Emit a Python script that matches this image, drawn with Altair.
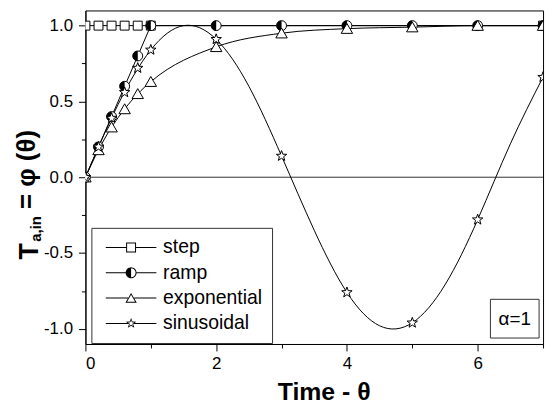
import math
import altair as alt
import pandas as pd

# ---------------- data ----------------
series_names = ["step", "ramp", "exponential", "sinusoidal"]

step_x = [0, 0.2, 0.4, 0.6, 0.8, 1.0, 7.0]
step_y = [1.0, 1.0, 1.0, 1.0, 1.0, 1.0, 1.0]

t_x = [0, 0.2, 0.4, 0.6, 0.8, 1.0, 2, 3, 4, 5, 6, 7]
ramp_y = [0, 0.2, 0.4, 0.6, 0.8, 1.0, 1.0, 1.0, 1.0, 1.0, 1.0, 1.0]
exp_y = [0, 0.18, 0.33, 0.45, 0.55, 0.63, 0.86, 0.95, 0.98, 0.99, 1.0, 1.0]
sin_y = [0, 0.2, 0.39, 0.56, 0.72, 0.84, 0.91, 0.14, -0.76, -0.96, -0.28, 0.66]

sin_curve_x = [0, 0.5, 1.0, 1.5, 2.0, 2.5, 3.0, 3.5, 4.0, 4.5, 5.0, 5.5, 6.0, 6.5, 7.0]
sin_curve_y = [0, 0.48, 0.84, 1.0, 0.91, 0.6, 0.14, -0.35, -0.76, -0.98, -0.96, -0.71, -0.28, 0.22, 0.66]

x_ticks = [0, 1, 2, 3, 4, 5, 6, 7]
y_ticks = [-1.0, -0.75, -0.5, -0.25, 0.0, 0.25, 0.5, 0.75, 1.0]

alpha_label = ["α=1"]
x_title = "Time - θ"

FONT = "Liberation Sans"

# ---------------- marker shapes (unit paths) ----------------
def fmt(p):
    return f"{p[0]:.3f},{p[1]:.3f}"

def poly(pts):
    return "M" + "L".join(fmt(p) for p in pts) + "Z"

def arc_pts(r, a0, a1, n):
    out = []
    for i in range(n + 1):
        a = math.radians(a0 + (a1 - a0) * i / n)
        out.append((r * math.sin(a), -r * math.cos(a)))
    return out

def scale_about(pts, c, k):
    return [(c[0] + (x - c[0]) * k, c[1] + (y - c[1]) * k) for x, y in pts]

sq_out = [(-0.9, -0.9), (0.9, -0.9), (0.9, 0.9), (-0.9, 0.9)]
tri_out = [(0, -1.05), (1.15, 0.95), (-1.15, 0.95)]
tri_c = (0, (-1.05 + 0.95 + 0.95) / 3)
star_out = []
for i in range(10):
    r = 1.1 if i % 2 == 0 else 0.45
    a = math.radians(36 * i)
    star_out.append((r * math.sin(a), -r * math.cos(a)))

SQUARE = poly(sq_out)
TRIANGLE = poly(tri_out)
STAR = poly(star_out)
HALF_LEFT = poly(arc_pts(1.0, 180, 360, 16))

# legend symbols: filled-only geometry (rings + 1px connector lines)
def line_parts(a):
    L = 5.1
    h = 0.1
    return (poly([(-L, -h), (-a, -h), (-a, h), (-L, h)]) +
            poly([(a, -h), (L, -h), (L, h), (a, h)]))

def ring(outer, inner):
    return poly(outer) + poly(list(reversed(inner)))

leg_step = ring([(-1.0, -1.0), (1.0, -1.0), (1.0, 1.0), (-1.0, 1.0)],
                [(-0.8, -0.8), (0.8, -0.8), (0.8, 0.8), (-0.8, 0.8)]) + line_parts(1.0)
leg_ramp = (poly(arc_pts(1.1, 180, 360, 18)) +
            poly(arc_pts(1.1, 0, 180, 18) + arc_pts(0.9, 180, 0, 18)) +
            line_parts(1.1))
leg_exp = ring(tri_out, scale_about(tri_out, tri_c, 0.7)) + line_parts(0.62)
leg_sin = ring(star_out, scale_about(star_out, (0, 0), 0.6)) + line_parts(0.6)

# ---------------- frames ----------------
step_df = pd.DataFrame({"x": step_x, "y": step_y})
ramp_df = pd.DataFrame({"x": t_x, "y": ramp_y})
exp_df = pd.DataFrame({"x": t_x, "y": exp_y})
sin_df = pd.DataFrame({"x": t_x, "y": sin_y})
sin_curve_df = pd.DataFrame({"x": sin_curve_x, "y": sin_curve_y})
legend_df = pd.DataFrame({"series": series_names, "x": [0, 0, 0, 0], "y": [0, 0, 0, 0]})

x_enc = alt.X(
    "x:Q",
    scale=alt.Scale(domain=[0, 7], nice=False, zero=False),
    axis=alt.Axis(
        values=x_ticks,
        format="d",
        labelExpr="datum.value % 2 === 0 ? datum.label : ''",
        tickSize={"condition": {"test": "datum.value % 2 === 0", "value": 7}, "value": 4},
        title=x_title,
        titleFont=FONT,
        titleFontSize=25,
        titleFontWeight="bold",
        titleX=240,
        titleY=56,
        titleBaseline="alphabetic",
        titleAnchor="middle",
        titleAlign="center",
        labelPadding=5,
    ),
)
y_enc = alt.Y(
    "y:Q",
    scale=alt.Scale(domain=[-1.1, 1.1], nice=False, zero=False),
    axis=alt.Axis(
        values=y_ticks,
        labelExpr="abs(datum.value * 2 - round(datum.value * 2)) < 1e-6 ? replace(format(datum.value, '.1f'), '\u2212', '-') : ''",
        tickSize={"condition": {"test": "abs(datum.value * 2 - round(datum.value * 2)) < 1e-6", "value": 7}, "value": 4},
        title=None,
        labelPadding=6,
    ),
)

LW = 1
base_line = dict(color="black", strokeWidth=LW, clip=True)
pt = dict(size=100, fill="white", stroke="black", strokeWidth=1, opacity=1, clip=True, filled=False)

zero_rule = alt.Chart(pd.DataFrame({"y": [0.0]})).mark_rule(color="#333333", strokeWidth=1).encode(y=y_enc)

l_step = alt.Chart(step_df).mark_line(**base_line).encode(x=x_enc, y=y_enc)
l_ramp = alt.Chart(ramp_df).mark_line(**base_line).encode(x=x_enc, y=y_enc)
l_exp = alt.Chart(exp_df).mark_line(interpolate="monotone", **base_line).encode(x=x_enc, y=y_enc)
l_sin = alt.Chart(sin_curve_df).mark_line(interpolate="natural", **base_line).encode(x=x_enc, y=y_enc)

p_step = alt.Chart(step_df).mark_point(shape=SQUARE, **pt).encode(x=x_enc, y=y_enc)
p_ramp = alt.Chart(ramp_df).mark_point(shape="circle", **pt).encode(x=x_enc, y=y_enc)
p_ramp_half = alt.Chart(ramp_df).mark_point(
    shape=HALF_LEFT, size=100, fill="black", filled=True, strokeWidth=0, opacity=1, clip=True
).encode(x=x_enc, y=y_enc)
p_exp = alt.Chart(exp_df).mark_point(shape=TRIANGLE, **pt).encode(x=x_enc, y=y_enc)
p_sin = alt.Chart(sin_df).mark_point(shape=STAR, **pt).encode(x=x_enc, y=y_enc)

legend_layer = alt.Chart(legend_df).mark_point(
    filled=True, color="black", opacity=0, size=100, strokeWidth=0
).encode(
    x=x_enc,
    y=y_enc,
    shape=alt.Shape(
        "series:N",
        scale=alt.Scale(domain=series_names, range=[leg_step, leg_ramp, leg_exp, leg_sin]),
        sort=series_names,
        legend=alt.Legend(
            title=None,
            orient="none",
            legendX=6,
            legendY=219,
            padding=10,
            strokeColor="#333333",
            fillColor="white",
            labelFont=FONT,
            labelFontSize=19.5,
            labelColor="black",
            labelLimit=300,
            symbolSize=100,
            symbolOffset=20.25,
            labelOffset=22.5,
            rowPadding=4.5,
            symbolStrokeWidth=0,
            symbolOpacity=1,
            symbolFillColor="black",
        ),
    ),
)

alpha_box = alt.Chart(pd.DataFrame({"t": alpha_label})).mark_rect(
    fill="white", stroke="#333333", strokeWidth=1
).encode(x=alt.value(408), x2=alt.value(457), y=alt.value(291), y2=alt.value(330))
alpha_text = alt.Chart(pd.DataFrame({"t": alpha_label})).mark_text(
    font=FONT, fontSize=19, color="black", align="center", baseline="middle"
).encode(x=alt.value(432.5), y=alt.value(311), text="t:N")

yt1 = alt.Chart(pd.DataFrame({"t": ["T"]})).mark_text(
    font=FONT, fontSize=27, fontWeight="bold", angle=270, align="left", baseline="alphabetic", color="black"
).encode(x=alt.value(-48), y=alt.value(251), text="t:N")
yt2 = alt.Chart(pd.DataFrame({"t": ["a,in"]})).mark_text(
    font=FONT, fontSize=15, fontWeight="bold", angle=270, align="left", baseline="alphabetic", color="black"
).encode(x=alt.value(-45), y=alt.value(233), text="t:N")
yt3 = alt.Chart(pd.DataFrame({"t": ["= φ (θ)"]})).mark_text(
    font=FONT, fontSize=26, fontWeight="bold", angle=270, align="left", baseline="alphabetic", color="black"
).encode(x=alt.value(-51), y=alt.value(200), text="t:N")

chart = alt.layer(
    zero_rule, l_step, l_ramp, l_exp, l_sin,
    p_step, p_ramp, p_ramp_half, p_exp, p_sin,
    legend_layer, alpha_box, alpha_text, yt1, yt2, yt3,
).properties(
    width=461,
    height=336,
    background="white",
    autosize=alt.AutoSizeParams(type="none"),
    padding={"left": 78, "top": 1, "right": 5, "bottom": 64},
).configure_view(
    stroke="black", strokeWidth=1
).configure_axis(
    grid=False,
    domainColor="black",
    domainWidth=1,
    tickColor="black",
    tickWidth=1,
    labelColor="black",
    labelFont=FONT,
    labelFontSize=17,
    titleColor="black",
)

chart.save("out.html", embed_options={"renderer": "svg", "actions": False})
